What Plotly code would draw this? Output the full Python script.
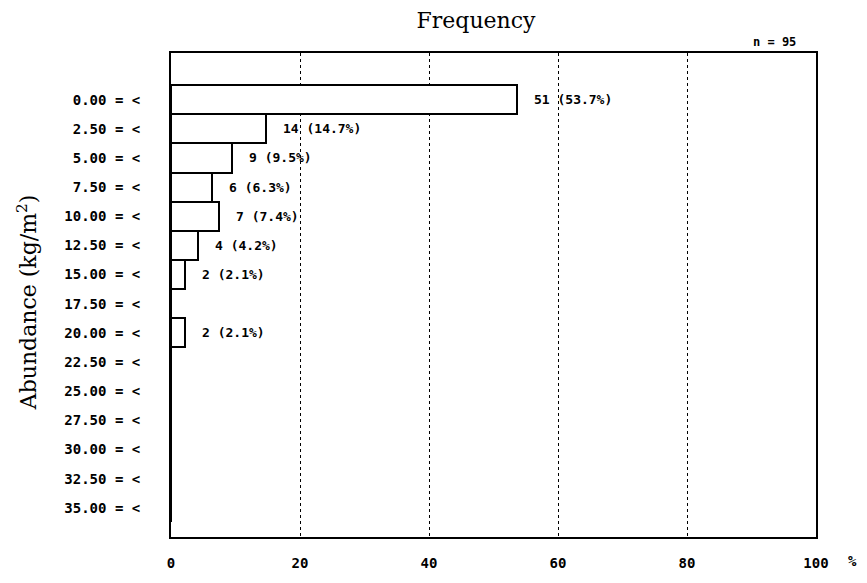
import plotly.graph_objects as go

# Data
categories = ["0.00 = <", "2.50 = <", "5.00 = <", "7.50 = <", "10.00 = <", "12.50 = <",
              "15.00 = <", "17.50 = <", "20.00 = <", "22.50 = <", "25.00 = <", "27.50 = <",
              "30.00 = <", "32.50 = <", "35.00 = <"]
counts = [51, 14, 9, 6, 7, 4, 2, 0, 2, 0, 0, 0, 0, 0, 0]
percents = [53.7, 14.7, 9.5, 6.3, 7.4, 4.2, 2.1, 0, 2.1, 0, 0, 0, 0, 0, 0]
x_ticks = [0, 20, 40, 60, 80, 100]
x_ticklabels = ["0", "20", "40", "60", "80", "100"]
n_total = 95

ypos = list(range(len(categories)))
mono = "DejaVu Sans Mono"
serif = "DejaVu Serif"

fig = go.Figure()
fig.add_trace(go.Bar(
    x=percents, y=ypos, orientation="h", width=1.0,
    marker=dict(color="white", line=dict(color="black", width=2)),
    showlegend=False, hoverinfo="skip",
))

for yi, c, p in zip(ypos, counts, percents):
    if c > 0:
        fig.add_annotation(x=p, y=yi, xref="x", yref="y", text=f"{c} ({p}%)",
                           showarrow=False, xanchor="left", xshift=15,
                           font=dict(family=mono, size=13, color="black", weight="bold"))

fig.add_annotation(x=100, y=0, xref="x", yref="paper", text="%", showarrow=False,
                   xanchor="left", yanchor="top", xshift=30, yshift=-14,
                   font=dict(family=mono, size=14, color="black", weight="bold"))
fig.add_annotation(x=1.0, y=1.0, xref="paper", yref="paper", text=f"n = {n_total}",
                   showarrow=False, xanchor="right", yanchor="bottom", xshift=-18, yshift=2,
                   font=dict(family=mono, size=12, color="black", weight="bold"))
fig.add_annotation(x=(27 - 171) / 645, y=0.485, xref="paper", yref="paper",
                   text="Abundance (kg/m<sup>2</sup>)", textangle=-90, showarrow=False,
                   xanchor="center", yanchor="middle",
                   font=dict(family=serif, size=22, color="black"))

fig.update_layout(
    width=867, height=583,
    margin=dict(l=171, r=51, t=53, b=35),
    paper_bgcolor="white", plot_bgcolor="white",
    title=dict(text="Frequency", x=476 / 867, xanchor="center", y=1 - 20 / 583, yanchor="middle",
               font=dict(family=serif, size=22, color="black")),
    bargap=0,
)
fig.update_xaxes(range=[0, 100], tickvals=x_ticks, ticktext=x_ticklabels,
                 showgrid=True, gridcolor="black", griddash="dot", gridwidth=1.3,
                 showline=True, linecolor="black", linewidth=2, mirror=True,
                 ticks="", ticklabelstandoff=12, zeroline=False,
                 tickfont=dict(family=mono, size=14, color="black", weight="bold"))
fig.update_yaxes(range=[15.0, -1.6], tickvals=ypos, ticktext=categories,
                 showgrid=False, showline=True, linecolor="black", linewidth=2, mirror=True,
                 ticks="", ticklabelstandoff=26, zeroline=False,
                 tickfont=dict(family=mono, size=14, color="black", weight="bold"))

fig.write_html("out.html")
